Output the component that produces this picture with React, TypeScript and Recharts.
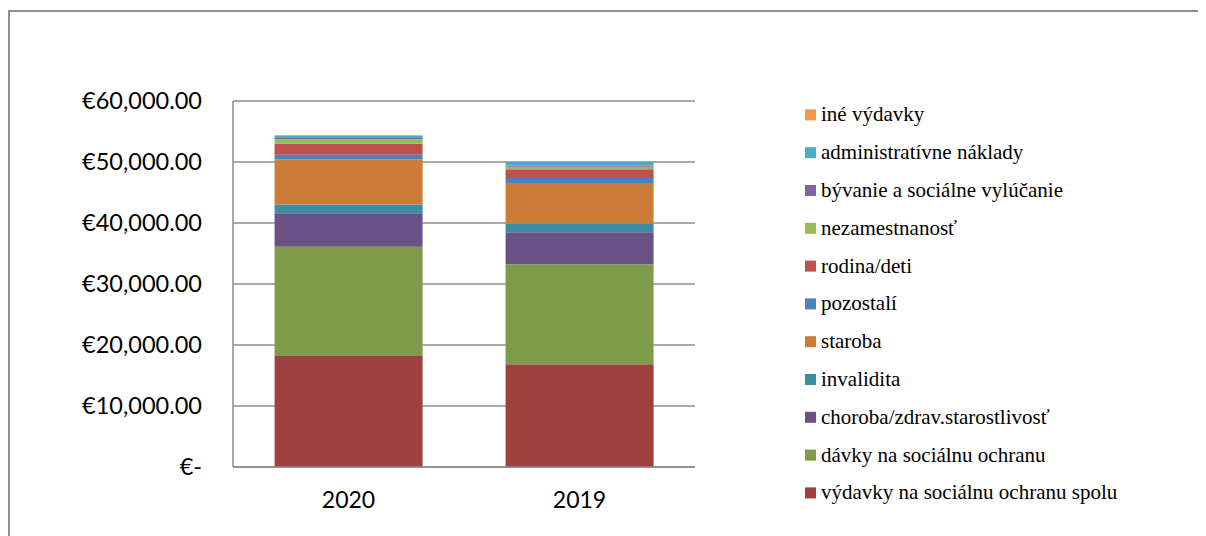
import React from 'react';
import { BarChart, Bar, XAxis, YAxis, CartesianGrid, Legend } from 'recharts';

const categories = ['2020', '2019'];

const vydavkySpolu = [18200, 16830];
const davky = [17900, 16400];
const choroba = [5500, 5250];
const invalidita = [1450, 1430];
const staroba = [7370, 6660];
const pozostali = [760, 820];
const rodina = [1800, 1420];
const nezamestnanost = [770, 430];
const byvanie = [200, 170];
const administrativne = [400, 600];
const ine = [60, 50];

const seriesNames = [
  'výdavky na sociálnu ochranu spolu',
  'dávky na sociálnu ochranu',
  'choroba/zdrav.starostlivosť',
  'invalidita',
  'staroba',
  'pozostalí',
  'rodina/deti',
  'nezamestnanosť',
  'bývanie a sociálne vylúčanie',
  'administratívne náklady',
  'iné výdavky',
];

const seriesColors = [
  '#9E413E',
  '#7F9A48',
  '#695185',
  '#3C8DA3',
  '#CC7B38',
  '#4F81BD',
  '#C0504D',
  '#9BBB59',
  '#8064A2',
  '#4BACC6',
  '#F79646',
];

const seriesValues = [
  vydavkySpolu,
  davky,
  choroba,
  invalidita,
  staroba,
  pozostali,
  rodina,
  nezamestnanost,
  byvanie,
  administrativne,
  ine,
];

const yTicks = [0, 10000, 20000, 30000, 40000, 50000, 60000];

const seriesKeys = seriesNames.map((_, i) => 's' + i);

const data = categories.map((c, i) => {
  const row: Record<string, string | number> = { name: c };
  seriesKeys.forEach((k, j) => {
    row[k] = seriesValues[j][i];
  });
  return row;
});

function formatEuro(v: number): string {
  if (v === 0) return '€-';
  const s = Math.round(v)
    .toString()
    .replace(/\B(?=(\d{3})+(?!\d))/g, ',');
  return '€' + s + '.00';
}

const axisFont = 'Lato';
const rowH = 37.8;

const renderLegend = () => {
  const items = seriesKeys
    .map((k, i) => ({ k, name: seriesNames[i], color: seriesColors[i] }))
    .reverse();
  return (
    <svg width={400} height={items.length * rowH} style={{ display: 'block' }}>
      {items.map((s, idx) => {
        const cy = idx * rowH + rowH / 2;
        return (
          <g key={s.k}>
            <rect x={0} y={cy - 5.5} width={11} height={11} fill={s.color} />
            <text
              x={16}
              y={cy + 6.5}
              fontFamily="Times New Roman"
              fontSize={21}
              fill="#000"
              style={{ fontFamily: 'Times New Roman' }}
            >
              {s.name}
            </text>
          </g>
        );
      })}
    </svg>
  );
};

export default function App() {
  return (
    <div style={{ position: 'relative', width: 1198, height: 528 }}>
      <div
        style={{
          position: 'absolute',
          left: 0,
          top: 2,
          width: 1198,
          height: 526,
          borderTop: '2px solid #8e8e8e',
          borderLeft: '2px solid #8e8e8e',
          boxSizing: 'border-box',
        }}
      />
      <BarChart
        width={1198}
        height={528}
        data={data}
        margin={{ top: 93, right: 511, bottom: 0, left: 0 }}
        barCategoryGap="18%"
      >
        <CartesianGrid vertical={false} stroke="#8c8c8c" strokeWidth={1.5} />
        <XAxis
          dataKey="name"
          height={69}
          tickLine={false}
          tickSize={0}
          tickMargin={25}
          axisLine={{ stroke: '#8c8c8c', strokeWidth: 1.5 }}
          tick={{ fill: '#000', fontSize: 23, fontFamily: axisFont }}
        />
        <YAxis
          width={225}
          domain={[0, 60000]}
          ticks={yTicks}
          interval={0}
          tickLine={false}
          tickSize={0}
          tickMargin={31}
          tickFormatter={formatEuro}
          axisLine={{ stroke: '#8c8c8c', strokeWidth: 1.5 }}
          tick={{ fill: '#000', fontSize: 23.5, fontFamily: axisFont }}
        />
        <Legend
          layout="vertical"
          align="center"
          verticalAlign="middle"
          content={renderLegend}
          wrapperStyle={{ left: 797, top: 88, width: 400 }}
        />
        {seriesKeys.map((k, i) => (
          <Bar
            key={k}
            dataKey={k}
            name={seriesNames[i]}
            stackId="a"
            fill={seriesColors[i]}
            isAnimationActive={false}
          />
        ))}
      </BarChart>
    </div>
  );
}
